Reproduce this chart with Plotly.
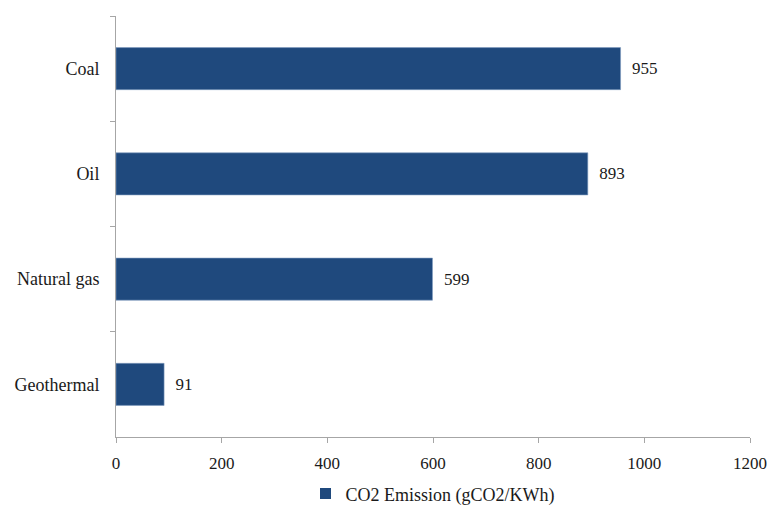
import plotly.graph_objects as go

categories = ["Coal", "Oil", "Natural gas", "Geothermal"]
values = [955, 893, 599, 91]
series_name = "CO2 Emission (gCO2/KWh)"
x_ticks = [0, 200, 400, 600, 800, 1000, 1200]

font_family = "Liberation Serif, Times New Roman, serif"
bar_color = "#1F497D"
axis_color = "#A6A6A6"
text_color = "#1a1a1a"

fig = go.Figure()
fig.add_trace(go.Bar(
    y=categories,
    x=values,
    orientation="h",
    name=series_name,
    marker=dict(color=bar_color, line=dict(color="#7f9cc0", width=0.6)),
    text=["  " + str(v) for v in values],
    textposition="outside",
    textfont=dict(family=font_family, size=17, color=text_color),
    cliponaxis=False,
    showlegend=False,
))
# legend entry (square marker like the original legend key)
fig.add_trace(go.Scatter(
    x=[None], y=[None],
    mode="markers",
    name=series_name,
    marker=dict(symbol="square", size=11, color=bar_color),
    showlegend=True,
))

fig.update_layout(
    width=769, height=509,
    margin=dict(l=116, r=19, t=16, b=72, autoexpand=False),
    paper_bgcolor="white",
    plot_bgcolor="white",
    bargap=0.6,
    font=dict(family=font_family, size=17, color=text_color),
    legend=dict(
        orientation="h",
        x=0.5, xanchor="center",
        y=-0.135, yanchor="middle",
        font=dict(family=font_family, size=18, color=text_color),
        itemwidth=30,
    ),
    showlegend=True,
)

fig.update_xaxes(
    range=[0, 1200],
    tickvals=x_ticks,
    ticktext=[str(t) for t in x_ticks],
    showgrid=False,
    zeroline=False,
    showline=True,
    linecolor=axis_color,
    linewidth=1,
    ticks="outside",
    ticklen=5,
    tickcolor=axis_color,
    ticklabelstandoff=6,
    tickfont=dict(family=font_family, size=17, color=text_color),
)

fig.update_yaxes(
    categoryorder="array",
    categoryarray=categories,
    autorange="reversed",
    showgrid=False,
    zeroline=False,
    showline=True,
    linecolor=axis_color,
    linewidth=1,
    ticks="outside",
    ticklen=5,
    tickcolor=axis_color,
    tickson="boundaries",
    ticklabelstandoff=12,
    tickfont=dict(family=font_family, size=18, color=text_color),
)

fig.write_html("out.html")
